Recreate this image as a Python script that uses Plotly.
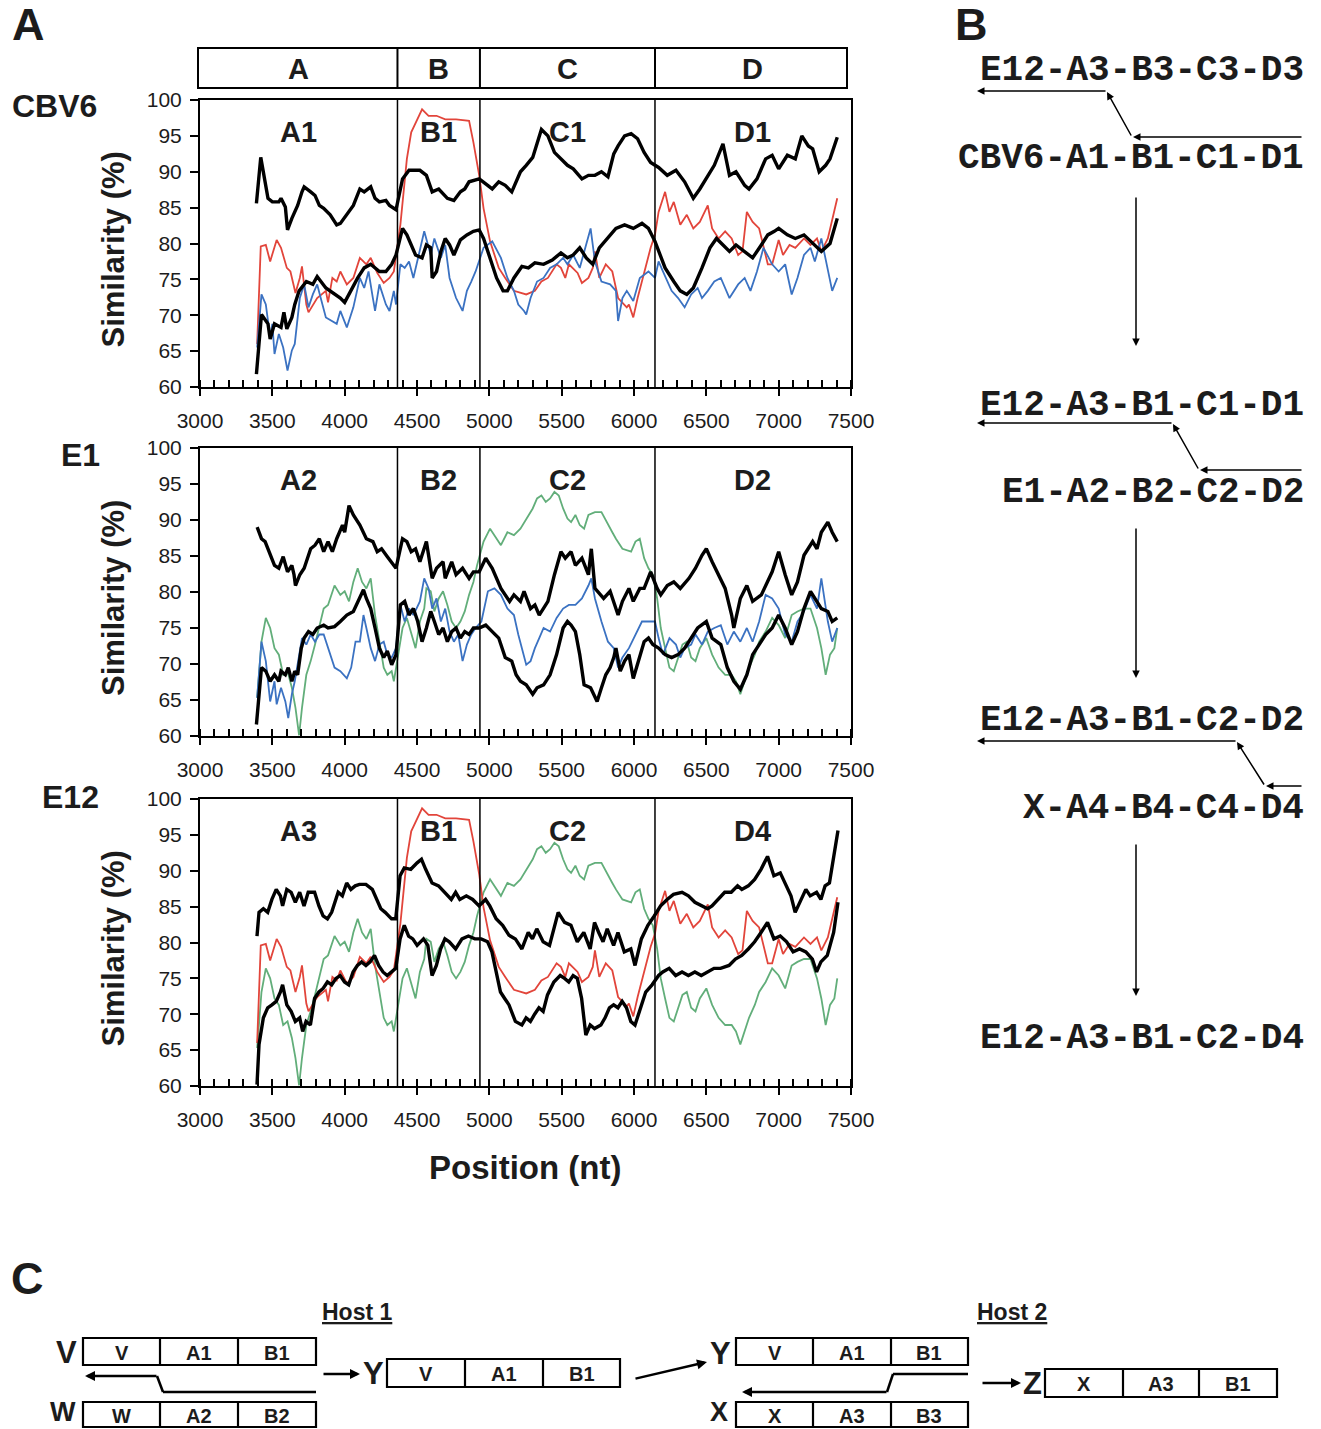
import plotly.graph_objects as go

# ---------------------------------------------------------------------------
# Similarity plots (sliding window, % identity vs genome position in nt)
# Each series: list of (position, similarity) pairs.
# ---------------------------------------------------------------------------

# CBV6 query
CBV6_UPPER = [(3390, 85.6), (3420, 92.0), (3470, 86.3), (3500, 85.8), (3545, 85.8), (3560, 86.3), (3590, 85.1),
              (3605, 81.9), (3635, 83.5), (3675, 85.3), (3705, 87.2), (3720, 87.9), (3765, 87.2), (3795, 86.7),
              (3825, 85.3), (3855, 84.9), (3900, 84.0), (3945, 82.6), (3970, 82.8), (4015, 84.0), (4060, 85.3),
              (4105, 87.6), (4135, 87.2), (4180, 87.9), (4210, 86.3), (4240, 85.8), (4285, 86.0), (4310, 85.3),
              (4355, 84.7), (4400, 89.0), (4445, 90.2), (4520, 90.2), (4565, 89.5), (4605, 87.2), (4650, 87.6),
              (4710, 86.3), (4755, 86.0), (4800, 87.2), (4830, 87.6), (4860, 88.6), (4930, 89.0), (4975, 88.3),
              (5020, 87.6), (5065, 88.6), (5110, 88.1), (5155, 87.2), (5215, 90.0), (5255, 90.9), (5300, 92.0),
              (5360, 95.9), (5405, 95.0), (5450, 92.7), (5495, 91.8), (5540, 90.9), (5580, 90.4), (5640, 89.0),
              (5685, 89.5), (5730, 89.5), (5775, 90.0), (5820, 89.3), (5860, 92.5), (5890, 93.6), (5935, 95.0),
              (5980, 95.3), (6025, 94.6), (6070, 92.7), (6115, 91.3), (6170, 90.6), (6230, 89.5), (6290, 90.2),
              (6350, 88.6), (6410, 86.3), (6455, 87.6), (6500, 89.0), (6555, 90.9), (6615, 93.9), (6660, 89.5),
              (6705, 90.0), (6765, 88.1), (6795, 87.6), (6850, 89.0), (6910, 91.8), (6955, 92.3), (7000, 90.4),
              (7060, 92.3), (7115, 91.8), (7160, 95.0), (7205, 93.6), (7235, 93.2), (7280, 90.0), (7325, 90.9),
              (7355, 91.8), (7405, 94.8)]

CBV6_LOWER = [(3390, 61.8), (3425, 70.1), (3470, 68.8), (3485, 66.7), (3515, 68.8), (3560, 68.3), (3580, 70.4),
              (3600, 68.1), (3635, 69.7), (3655, 71.5), (3685, 73.4), (3735, 74.7), (3780, 74.3), (3810, 75.4),
              (3870, 73.8), (3970, 72.4), (4000, 71.8), (4030, 72.9), (4045, 73.4), (4090, 75.2), (4135, 76.6),
              (4180, 77.1), (4240, 76.1), (4285, 76.1), (4325, 77.1), (4355, 78.4), (4400, 82.1), (4430, 81.2),
              (4490, 78.4), (4535, 78.0), (4565, 79.8), (4595, 79.4), (4605, 75.2), (4635, 76.1), (4665, 78.9),
              (4695, 80.7), (4725, 79.8), (4755, 78.4), (4800, 80.5), (4845, 81.2), (4890, 81.7), (4930, 81.9),
              (4960, 80.7), (5005, 78.0), (5050, 75.2), (5095, 73.4), (5125, 73.4), (5170, 75.2), (5225, 76.8),
              (5270, 76.6), (5315, 77.3), (5375, 77.1), (5435, 77.7), (5495, 78.7), (5540, 78.0), (5580, 78.4),
              (5625, 79.4), (5670, 78.0), (5715, 77.1), (5760, 79.4), (5835, 81.2), (5875, 82.1), (5935, 82.6),
              (5995, 82.1), (6055, 82.8), (6100, 82.1), (6145, 80.3), (6215, 76.6), (6275, 74.7), (6320, 73.4),
              (6365, 72.9), (6410, 73.8), (6470, 76.6), (6525, 79.4), (6570, 80.7), (6615, 79.8), (6660, 78.9),
              (6705, 79.8), (6765, 78.9), (6820, 78.0), (6880, 79.8), (6925, 81.2), (6970, 81.7), (7000, 82.1),
              (7060, 81.2), (7115, 80.7), (7175, 81.2), (7235, 80.0), (7295, 78.9), (7355, 80.0), (7405, 83.5)]

CBV6_BLUE = [(3395, 65.5), (3425, 72.9), (3455, 71.5), (3485, 66.9), (3500, 68.8), (3515, 64.6), (3545, 67.4),
             (3575, 65.5), (3605, 62.3), (3635, 65.1), (3655, 66.0), (3690, 72.4), (3720, 74.3), (3750, 71.1),
             (3780, 72.9), (3810, 74.3), (3870, 69.7), (3945, 68.8), (3970, 70.6), (4015, 68.3), (4060, 71.1),
             (4105, 75.2), (4135, 73.8), (4165, 76.1), (4195, 72.4), (4210, 70.6), (4240, 74.3), (4285, 71.5),
             (4310, 70.6), (4340, 73.4), (4355, 71.5), (4385, 77.1), (4415, 76.6), (4445, 77.5), (4475, 75.2),
             (4550, 81.7), (4595, 78.4), (4620, 80.7), (4665, 78.0), (4695, 79.8), (4725, 75.2), (4770, 72.4),
             (4815, 70.6), (4845, 73.4), (4875, 74.7), (4905, 76.1), (4960, 79.4), (5020, 80.3), (5080, 78.0),
             (5125, 75.2), (5170, 73.4), (5200, 71.5), (5240, 70.6), (5255, 70.1), (5285, 72.4), (5330, 74.7),
             (5375, 75.2), (5420, 76.6), (5465, 77.1), (5510, 78.0), (5540, 77.1), (5580, 78.4), (5625, 76.6),
             (5700, 82.1), (5730, 77.5), (5775, 74.7), (5835, 74.3), (5875, 73.4), (5890, 69.2), (5920, 72.4),
             (5950, 73.4), (5995, 72.0), (6040, 75.2), (6100, 76.1), (6145, 75.2), (6170, 77.5), (6200, 76.1),
             (6260, 73.4), (6305, 72.4), (6350, 71.1), (6395, 72.9), (6440, 73.8), (6470, 72.4), (6510, 73.4),
             (6555, 74.7), (6600, 75.2), (6660, 72.4), (6720, 74.3), (6765, 75.2), (6805, 73.4), (6850, 76.1),
             (6895, 79.4), (6955, 77.1), (7000, 76.1), (7045, 77.1), (7090, 72.9), (7130, 75.2), (7175, 78.4),
             (7220, 79.4), (7250, 77.5), (7295, 80.7), (7340, 76.1), (7370, 73.4), (7405, 75.2)]

# CBV6 vs E12 (drawn in the CBV6 and E12 panels)
CBV6_E12_RED = [(3395, 66.0), (3420, 79.6), (3455, 79.8), (3485, 77.5), (3530, 80.5), (3560, 79.4), (3600, 76.6),
                (3625, 76.1), (3660, 73.1), (3690, 75.2), (3705, 76.8), (3735, 71.5), (3750, 70.4), (3810, 72.4),
                (3870, 73.4), (3885, 71.8), (3915, 75.2), (3945, 74.7), (3970, 76.1), (4015, 74.3), (4060, 75.2),
                (4105, 78.0), (4150, 77.1), (4180, 78.0), (4225, 75.9), (4270, 74.5), (4310, 75.2), (4340, 76.1),
                (4385, 82.6), (4415, 88.6), (4430, 91.8), (4460, 95.5), (4535, 98.7), (4580, 97.8), (4635, 97.8),
                (4695, 97.3), (4770, 97.3), (4860, 97.1), (4890, 94.1), (4930, 89.5), (4960, 84.9), (5005, 80.3),
                (5065, 76.6), (5110, 75.2), (5170, 73.4), (5255, 72.9), (5315, 73.4), (5360, 74.7), (5405, 75.2),
                (5465, 77.1), (5495, 76.6), (5525, 75.2), (5550, 77.1), (5610, 75.9), (5640, 74.5), (5685, 75.2),
                (5715, 76.6), (5730, 78.9), (5760, 75.2), (5805, 77.1), (5850, 76.1), (5890, 72.4), (5950, 71.1),
                (5965, 71.5), (5995, 69.7), (6025, 72.4), (6070, 76.1), (6115, 79.4), (6145, 81.2), (6170, 84.4),
                (6215, 87.2), (6245, 84.4), (6275, 85.8), (6320, 82.6), (6365, 84.0), (6410, 82.1), (6455, 83.0),
                (6510, 85.3), (6540, 82.1), (6585, 80.7), (6630, 81.7), (6675, 80.7), (6720, 78.4), (6750, 78.9),
                (6780, 84.4), (6820, 83.0), (6865, 82.1), (6895, 79.4), (6925, 77.1), (6955, 77.1), (7000, 80.5),
                (7030, 78.4), (7075, 79.8), (7115, 79.4), (7175, 80.7), (7220, 79.8), (7265, 80.7), (7295, 78.9),
                (7340, 80.7), (7405, 86.3)]

# E1 query
E1_UPPER = [(3395, 89.0), (3425, 87.4), (3450, 87.0), (3485, 85.1), (3515, 83.7), (3545, 83.3), (3575, 84.9),
            (3605, 82.8), (3635, 83.7), (3650, 82.4), (3660, 80.9), (3690, 82.4), (3720, 83.3), (3765, 86.0),
            (3795, 86.5), (3825, 87.4), (3855, 85.6), (3885, 87.0), (3915, 85.6), (3945, 87.4), (3985, 89.3),
            (4000, 88.3), (4030, 92.0), (4060, 90.7), (4105, 89.3), (4150, 87.4), (4195, 87.0), (4225, 85.6),
            (4255, 86.0), (4295, 84.9), (4340, 83.7), (4355, 83.3), (4400, 87.4), (4430, 87.0), (4460, 85.6),
            (4490, 86.0), (4520, 84.2), (4565, 87.0), (4605, 81.9), (4635, 83.3), (4680, 84.2), (4695, 81.9),
            (4740, 84.2), (4770, 82.4), (4815, 83.3), (4860, 81.9), (4890, 82.8), (4930, 82.8), (4975, 84.7),
            (5020, 83.3), (5080, 80.5), (5140, 78.7), (5170, 79.6), (5215, 78.7), (5240, 80.1), (5285, 77.7),
            (5315, 78.2), (5345, 76.8), (5405, 78.7), (5450, 82.4), (5495, 85.6), (5525, 84.7), (5565, 85.6),
            (5595, 83.7), (5640, 84.7), (5685, 82.4), (5705, 86.0), (5730, 80.5), (5790, 79.1), (5835, 80.1),
            (5890, 76.8), (5920, 78.7), (5965, 80.5), (5995, 78.7), (6040, 80.5), (6070, 80.5), (6115, 82.8),
            (6160, 80.5), (6185, 79.6), (6230, 80.9), (6275, 81.4), (6320, 80.5), (6380, 81.9), (6425, 83.3),
            (6470, 85.1), (6500, 86.0), (6540, 84.2), (6585, 82.4), (6630, 80.5), (6675, 76.8), (6690, 75.0),
            (6735, 79.1), (6780, 80.9), (6820, 78.7), (6880, 79.6), (6955, 82.8), (7000, 85.6), (7045, 82.4),
            (7090, 79.6), (7130, 81.4), (7175, 85.1), (7235, 87.0), (7265, 86.0), (7295, 88.3), (7340, 89.7),
            (7370, 88.3), (7405, 87.0)]

E1_LOWER = [(3390, 61.6), (3425, 69.5), (3455, 69.0), (3485, 67.6), (3515, 68.5), (3545, 67.6), (3560, 69.0),
            (3590, 68.5), (3610, 69.5), (3635, 67.6), (3655, 69.0), (3675, 68.5), (3700, 72.2), (3720, 73.6),
            (3750, 74.5), (3780, 74.1), (3810, 75.0), (3855, 75.4), (3885, 75.0), (3930, 75.2), (3970, 75.9),
            (4015, 76.8), (4060, 77.3), (4105, 79.1), (4130, 80.3), (4150, 79.1), (4180, 77.7), (4210, 75.0),
            (4240, 72.2), (4270, 70.9), (4295, 71.8), (4325, 69.9), (4355, 71.3), (4385, 78.2), (4415, 78.7),
            (4445, 76.8), (4475, 77.7), (4505, 75.9), (4535, 73.1), (4565, 75.0), (4595, 77.3), (4620, 75.9),
            (4650, 74.1), (4680, 75.0), (4710, 73.1), (4740, 74.5), (4770, 75.0), (4800, 73.6), (4830, 74.5),
            (4860, 74.1), (4890, 75.0), (4930, 75.0), (4975, 75.4), (5020, 74.5), (5065, 73.6), (5110, 70.9),
            (5155, 70.4), (5185, 68.5), (5215, 67.6), (5255, 67.1), (5300, 65.8), (5330, 66.7), (5375, 67.1),
            (5420, 68.5), (5465, 71.3), (5510, 75.0), (5540, 75.9), (5565, 75.4), (5595, 74.5), (5625, 71.3),
            (5655, 67.1), (5700, 66.7), (5745, 64.8), (5775, 66.7), (5805, 68.5), (5835, 69.5), (5860, 70.9),
            (5875, 72.2), (5905, 69.0), (5935, 70.4), (5965, 71.3), (5995, 68.0), (6040, 71.3), (6070, 73.1),
            (6100, 73.6), (6130, 72.7), (6170, 72.2), (6215, 71.3), (6260, 70.9), (6305, 71.3), (6350, 72.2),
            (6395, 73.6), (6440, 75.0), (6500, 75.9), (6540, 73.6), (6600, 72.7), (6645, 69.5), (6690, 67.6),
            (6735, 66.5), (6780, 68.5), (6820, 71.3), (6865, 72.7), (6910, 74.1), (6955, 75.0), (7000, 76.8),
            (7045, 75.0), (7090, 72.7), (7130, 74.5), (7175, 77.7), (7220, 80.1), (7265, 78.7), (7295, 77.7),
            (7340, 77.3), (7370, 75.9), (7405, 76.4)]

E1_BLUE = [(3395, 65.3), (3425, 73.1), (3455, 70.4), (3485, 64.8), (3515, 67.6), (3530, 64.4), (3560, 66.7),
           (3590, 64.8), (3610, 62.5), (3635, 65.8), (3655, 67.6), (3685, 70.9), (3705, 73.6), (3735, 72.7),
           (3765, 74.1), (3795, 73.1), (3825, 74.1), (3855, 74.1), (3885, 72.2), (3930, 69.5), (3970, 69.0),
           (4015, 68.0), (4045, 69.5), (4075, 73.1), (4105, 73.1), (4130, 76.8), (4150, 75.0), (4180, 72.2),
           (4210, 70.4), (4240, 72.7), (4270, 73.1), (4295, 71.3), (4325, 70.9), (4355, 72.2), (4385, 78.2),
           (4415, 75.9), (4445, 77.7), (4475, 76.8), (4520, 78.7), (4550, 81.9), (4580, 80.5), (4605, 77.7),
           (4635, 79.1), (4665, 75.9), (4695, 77.7), (4725, 74.5), (4755, 73.1), (4785, 74.1), (4815, 70.4),
           (4845, 72.7), (4875, 74.1), (4905, 75.0), (4945, 75.9), (4990, 80.1), (5035, 80.5), (5080, 79.6),
           (5125, 77.7), (5170, 76.8), (5200, 74.1), (5230, 71.8), (5255, 69.9), (5285, 70.4), (5315, 72.2),
           (5345, 73.6), (5375, 75.0), (5420, 74.5), (5465, 76.4), (5510, 77.7), (5550, 78.2), (5595, 78.2),
           (5640, 79.1), (5685, 80.9), (5705, 81.9), (5730, 79.1), (5775, 75.9), (5820, 73.1), (5860, 72.2),
           (5890, 69.5), (5920, 70.9), (5965, 72.2), (6010, 74.1), (6055, 75.9), (6100, 75.9), (6145, 75.9),
           (6170, 73.6), (6200, 71.3), (6245, 73.6), (6290, 72.7), (6320, 70.9), (6350, 72.2), (6395, 72.7),
           (6425, 74.1), (6470, 72.7), (6510, 74.5), (6555, 75.0), (6600, 75.4), (6645, 72.7), (6690, 74.5),
           (6735, 73.1), (6780, 75.0), (6820, 73.1), (6865, 75.9), (6910, 79.6), (6955, 79.1), (7000, 77.7),
           (7045, 74.1), (7090, 73.1), (7130, 75.9), (7175, 77.3), (7220, 79.6), (7265, 77.7), (7295, 81.9),
           (7340, 75.9), (7370, 73.1), (7405, 75.0)]

# E1 vs E12 (drawn in the E1 and E12 panels)
E1_E12_GREEN = [(3395, 65.3), (3425, 73.1), (3455, 76.4), (3485, 75.0), (3515, 72.2), (3545, 71.3), (3575, 68.5),
                (3605, 69.0), (3635, 66.7), (3660, 63.9), (3685, 60.1), (3705, 63.9), (3735, 68.5), (3765, 70.4),
                (3795, 72.7), (3825, 75.0), (3855, 77.7), (3885, 78.2), (3930, 80.9), (3970, 79.6), (4000, 80.1),
                (4030, 78.7), (4060, 81.4), (4090, 83.3), (4120, 81.4), (4150, 80.5), (4180, 81.9), (4210, 76.8),
                (4240, 73.1), (4270, 69.5), (4295, 68.5), (4325, 69.0), (4340, 67.6), (4370, 71.3), (4400, 75.0),
                (4430, 76.4), (4460, 74.1), (4490, 72.2), (4520, 75.9), (4550, 77.7), (4565, 80.5), (4595, 80.1),
                (4620, 77.3), (4650, 79.1), (4680, 80.1), (4710, 78.2), (4740, 75.9), (4770, 75.0), (4800, 75.9),
                (4830, 77.3), (4860, 79.6), (4890, 81.4), (4915, 83.7), (4960, 87.0), (5005, 88.8), (5050, 87.4),
                (5080, 86.5), (5125, 88.3), (5170, 87.9), (5215, 88.8), (5255, 90.2), (5300, 91.6), (5330, 93.0),
                (5360, 93.4), (5390, 92.5), (5420, 93.0), (5450, 93.9), (5480, 93.4), (5510, 91.6), (5540, 90.2),
                (5565, 89.7), (5595, 90.7), (5625, 89.3), (5655, 88.8), (5685, 90.7), (5730, 91.1), (5775, 91.1),
                (5820, 89.3), (5850, 88.3), (5875, 87.4), (5920, 86.0), (5980, 85.6), (6010, 87.0), (6040, 87.4),
                (6070, 84.7), (6100, 83.3), (6130, 82.4), (6160, 79.1), (6185, 75.0), (6215, 72.2), (6245, 69.5),
                (6275, 69.0), (6305, 70.9), (6335, 72.7), (6365, 73.1), (6395, 70.9), (6425, 70.4), (6455, 72.2),
                (6500, 73.6), (6540, 71.3), (6585, 69.5), (6630, 68.5), (6675, 68.5), (6705, 67.6), (6735, 65.8),
                (6765, 67.6), (6795, 69.5), (6835, 71.3), (6865, 73.1), (6910, 74.5), (6955, 76.4), (7000, 75.4),
                (7045, 73.6), (7090, 76.8), (7130, 77.3), (7175, 77.7), (7220, 77.7), (7265, 75.0), (7295, 72.2),
                (7325, 68.5), (7355, 71.3), (7385, 72.2), (7405, 75.0)]

# E12 query
E12_UPPER = [(3394, 80.9), (3408, 84.2), (3438, 84.7), (3468, 84.2), (3497, 86.0), (3527, 87.4), (3556, 86.5),
             (3571, 85.1), (3600, 87.4), (3630, 87.0), (3659, 85.6), (3689, 87.0), (3719, 85.1), (3748, 87.0),
             (3792, 87.0), (3822, 85.1), (3851, 83.7), (3881, 83.3), (3910, 84.2), (3955, 87.0), (3984, 86.5),
             (4014, 88.3), (4043, 87.4), (4073, 87.9), (4102, 88.1), (4147, 88.1), (4191, 87.4), (4221, 86.0),
             (4250, 84.7), (4280, 84.2), (4324, 83.3), (4353, 83.3), (4383, 89.3), (4412, 90.4), (4457, 90.2),
             (4501, 91.1), (4531, 91.6), (4560, 90.2), (4604, 88.3), (4649, 87.9), (4693, 87.0), (4737, 86.0),
             (4767, 87.0), (4796, 86.0), (4841, 86.5), (4885, 86.0), (4929, 85.1), (4974, 86.0), (5003, 85.1),
             (5047, 83.3), (5092, 82.4), (5136, 81.0), (5180, 80.5), (5225, 79.1), (5269, 81.4), (5298, 80.5),
             (5328, 81.9), (5372, 80.1), (5416, 79.6), (5476, 84.2), (5520, 82.8), (5564, 82.4), (5608, 80.1),
             (5653, 81.4), (5697, 79.1), (5727, 82.8), (5756, 81.4), (5786, 80.1), (5815, 81.9), (5859, 79.6),
             (5889, 81.4), (5933, 78.7), (5978, 79.1), (6007, 76.8), (6051, 80.5), (6096, 82.4), (6140, 83.7),
             (6184, 85.1), (6229, 86.0), (6273, 86.7), (6332, 87.0), (6376, 86.5), (6421, 85.6), (6465, 85.1),
             (6509, 84.7), (6539, 85.1), (6583, 86.0), (6627, 87.0), (6672, 87.0), (6716, 87.9), (6745, 87.4),
             (6790, 87.9), (6834, 88.8), (6878, 90.2), (6923, 92.0), (6967, 89.3), (7011, 89.7), (7055, 87.9),
             (7085, 86.5), (7114, 84.2), (7144, 85.6), (7188, 87.4), (7218, 86.5), (7262, 87.0), (7292, 86.0),
             (7321, 87.9), (7351, 88.3), (7380, 91.6), (7410, 95.6)]

E12_LOWER = [(3394, 60.2), (3408, 65.8), (3438, 69.5), (3468, 70.9), (3497, 71.3), (3527, 71.8), (3556, 73.1),
             (3571, 74.1), (3600, 71.3), (3630, 70.4), (3659, 69.0), (3689, 69.5), (3710, 67.6), (3733, 69.0),
             (3763, 68.5), (3792, 72.2), (3822, 73.1), (3851, 73.6), (3881, 74.5), (3910, 74.1), (3940, 75.0),
             (3969, 75.4), (3999, 74.5), (4028, 74.1), (4058, 75.9), (4088, 76.8), (4117, 77.3), (4147, 76.8),
             (4176, 77.3), (4206, 78.2), (4235, 76.8), (4265, 75.9), (4294, 75.4), (4324, 75.9), (4353, 76.4),
             (4383, 80.5), (4412, 82.4), (4442, 80.9), (4471, 80.5), (4501, 79.6), (4545, 80.5), (4575, 79.6),
             (4604, 75.4), (4634, 76.8), (4663, 79.1), (4693, 80.5), (4723, 80.1), (4767, 79.1), (4811, 80.5),
             (4855, 80.9), (4900, 80.5), (4944, 80.5), (4988, 80.1), (5018, 78.7), (5047, 75.9), (5077, 73.1),
             (5106, 72.2), (5136, 71.3), (5180, 69.0), (5225, 68.5), (5254, 69.5), (5284, 69.0), (5313, 70.0),
             (5343, 70.9), (5372, 70.4), (5402, 72.7), (5446, 74.5), (5490, 75.4), (5520, 75.0), (5549, 74.5),
             (5579, 75.4), (5608, 75.0), (5638, 72.2), (5667, 67.1), (5697, 68.5), (5727, 68.0), (5771, 68.5),
             (5800, 69.5), (5830, 70.9), (5859, 71.3), (5889, 70.9), (5918, 71.8), (5948, 70.9), (5978, 69.0),
             (6007, 68.5), (6051, 71.3), (6081, 73.1), (6125, 74.1), (6170, 75.4), (6199, 75.9), (6243, 76.4),
             (6288, 75.4), (6332, 75.9), (6376, 75.4), (6421, 75.9), (6465, 75.4), (6509, 75.9), (6553, 76.4),
             (6598, 76.4), (6657, 76.8), (6701, 77.7), (6745, 78.2), (6790, 79.1), (6834, 80.1), (6878, 81.4),
             (6923, 82.8), (6967, 80.5), (7011, 80.9), (7055, 80.1), (7100, 78.7), (7144, 79.1), (7188, 78.7),
             (7233, 77.7), (7262, 75.9), (7292, 77.3), (7336, 78.2), (7380, 81.4), (7410, 85.6)]

# Genome regions (nt) and their labels
REGION_EDGES = [3000, 4365, 4935, 6145, 7500]
REGION_NAMES = ["A", "B", "C", "D"]
PANEL_NAMES = ["CBV6", "E1", "E12"]
PANEL_REGION_LABELS = [["A1", "B1", "C1", "D1"],
                       ["A2", "B2", "C2", "D2"],
                       ["A3", "B1", "C2", "D4"]]

X_TICKS = [3000, 3500, 4000, 4500, 5000, 5500, 6000, 6500, 7000, 7500]
Y_TICKS = [60, 65, 70, 75, 80, 85, 90, 95, 100]

# Recombination schemes (panel B) and the host diagram (panel C)
SCHEME_LINES = ["E12-A3-B3-C3-D3", "CBV6-A1-B1-C1-D1", "E12-A3-B1-C1-D1", "E1-A2-B2-C2-D2",
                "E12-A3-B1-C2-D2", "X-A4-B4-C4-D4", "E12-A3-B1-C2-D4"]
GENOMES = {
    "h1_V": ("V", ["V", "A1", "B1"]),
    "h1_W": ("W", ["W", "A2", "B2"]),
    "h1_Y": ("Y", ["V", "A1", "B1"]),
    "h2_Y": ("Y", ["V", "A1", "B1"]),
    "h2_X": ("X", ["X", "A3", "B3"]),
    "h2_Z": ("Z", ["X", "A3", "B1"]),
}

# ---------------------------------------------------------------------------
W, H = 1321, 1429
FONT = "Arial, Liberation Sans, Helvetica, sans-serif"
MONO = "Courier New, Liberation Mono, monospace"
INK = "#1c1c1c"
RED = "#e2453b"
BLUE = "#3b72c2"
GREEN = "#62ae7a"


def fx(px):
    return px / W


def fy(py):
    return 1 - py / H


def label(x, y, text, size, xref="paper", yref="paper", **kw):
    d = dict(xref=xref, yref=yref, x=x, y=y, text=text, showarrow=False,
             xanchor="center", yanchor="middle", font=dict(family=FONT, size=size, color=INK))
    d.update(kw)
    return d


PLOT_LEFT, PLOT_RIGHT = 200, 851
PLOT_TOPS = [100, 448, 799]
PLOT_BOTTOMS = [387, 736, 1086]

panel_series = [
    [(CBV6_E12_RED, RED), (CBV6_BLUE, BLUE), (CBV6_UPPER, "black"), (CBV6_LOWER, "black")],
    [(E1_E12_GREEN, GREEN), (E1_BLUE, BLUE), (E1_UPPER, "black"), (E1_LOWER, "black")],
    [(E1_E12_GREEN, GREEN), (CBV6_E12_RED, RED), (E12_UPPER, "black"), (E12_LOWER, "black")],
]

fig = go.Figure()
shapes = []
annotations = []

for i, series in enumerate(panel_series):
    sfx = "" if i == 0 else str(i + 1)
    xa, ya = "x" + sfx, "y" + sfx
    for data, color in series:
        fig.add_trace(go.Scatter(
            x=[p for p, _ in data], y=[v for _, v in data],
            mode="lines", xaxis=xa, yaxis=ya, showlegend=False, hoverinfo="skip",
            line=dict(color=color, width=3.4 if color == "black" else 1.8)))

    axis_common = dict(showline=True, linecolor="black", linewidth=2, mirror=True,
                       showgrid=False, zeroline=False,
                       tickfont=dict(family=FONT, size=21, color=INK),
                       ticks="outside", tickcolor="black", tickwidth=1.5)
    layout_x = dict(domain=[fx(PLOT_LEFT), fx(PLOT_RIGHT)], range=[3000, 7500],
                    tickvals=X_TICKS, ticklen=7, ticklabelstandoff=7,
                    minor=dict(ticks="inside", dtick=100, ticklen=7, tickwidth=1.5, tickcolor="black"),
                    anchor=ya, **axis_common)
    layout_y = dict(domain=[fy(PLOT_BOTTOMS[i]), fy(PLOT_TOPS[i])], range=[60, 100],
                    tickvals=Y_TICKS, ticklen=8, ticklabelstandoff=4, anchor=xa, **axis_common)
    fig.update_layout(**{"xaxis" + sfx: layout_x, "yaxis" + sfx: layout_y})

    # region boundaries
    for b in REGION_EDGES[1:-1]:
        shapes.append(dict(type="line", xref=xa, yref=ya, x0=b, x1=b, y0=60, y1=100,
                           line=dict(color="black", width=1.5)))
    # region labels inside the plot
    for k, lab in enumerate(PANEL_REGION_LABELS[i]):
        annotations.append(label((REGION_EDGES[k] + REGION_EDGES[k + 1]) / 2, 95.6, "<b>%s</b>" % lab, 29,
                                 xref=xa, yref=ya))
    # y-axis title
    mid = (PLOT_TOPS[i] + PLOT_BOTTOMS[i]) / 2 + 6
    annotations.append(label(fx(113), fy(mid), "<b>Similarity (%)</b>", 31, textangle=-90))

# virus names beside each plot
for name, (cx, cy) in zip(PANEL_NAMES, [(54, 106), (80, 455), (70, 797)]):
    annotations.append(label(fx(cx), fy(cy), "<b>%s</b>" % name, 32))

# region header box above the first plot
shapes.append(dict(type="rect", xref="paper", yref="paper", x0=fx(198), x1=fx(847), y0=fy(88), y1=fy(48),
                   line=dict(color="black", width=2)))
for b in REGION_EDGES[1:-1]:
    shapes.append(dict(type="line", xref="x", yref="paper", x0=b, x1=b, y0=fy(88), y1=fy(48),
                       line=dict(color="black", width=2)))
for k, lab in enumerate(REGION_NAMES):
    annotations.append(label((REGION_EDGES[k] + REGION_EDGES[k + 1]) / 2, fy(69), "<b>%s</b>" % lab, 29,
                             xref="x"))

annotations.append(label(fx(525), fy(1167), "<b>Position (nt)</b>", 33))

# panel letters
for letter, (cx, cy) in zip(["A", "B", "C"], [(28, 25), (971, 25), (27, 1278)]):
    annotations.append(label(fx(cx), fy(cy), "<b>%s</b>" % letter, 45))


def arrow(head, tail, width=1.5, size=1.0):
    annotations.append(dict(xref="paper", yref="paper", x=fx(head[0]), y=fy(head[1]),
                            ax=tail[0] - head[0], ay=tail[1] - head[1], axref="pixel", ayref="pixel",
                            xanchor="center", yanchor="middle",
                            text="", showarrow=True, arrowhead=2, arrowsize=size, arrowwidth=width,
                            arrowcolor="black", standoff=0, startstandoff=0))


def seg(p0, p1, width=1.5):
    shapes.append(dict(type="line", xref="paper", yref="paper", x0=fx(p0[0]), y0=fy(p0[1]),
                       x1=fx(p1[0]), y1=fy(p1[1]), line=dict(color="black", width=width)))


# ---- panel B: recombination scheme ----
for text, cy in zip(SCHEME_LINES, [70, 158, 405, 492, 720, 808, 1038]):
    annotations.append(dict(xref="paper", yref="paper", x=fx(1306), y=fy(cy), xanchor="right", yanchor="middle",
                            text="<b>%s</b>" % text, showarrow=False,
                            font=dict(family=MONO, size=36, color=INK)))

for top_y, turn_top, turn_bot, bot_y in [(91, 1107, 1132, 137), (423, 1173, 1199, 470), (741, 1237, 1265, 786)]:
    arrow((977, top_y), (turn_top, top_y))
    arrow((turn_top, top_y + 1), (turn_bot, bot_y))
    arrow((turn_bot + 1, bot_y), (1303, bot_y))

for y0, y1 in [(196, 346), (527, 678), (843, 996)]:
    arrow((1136, y1), (1136, y0))

# ---- panel C: recombination between genomes in two hosts ----
for host, cx in [("Host 1", 357), ("Host 2", 1012)]:
    annotations.append(label(fx(cx), fy(1312), "<b><u>%s</u></b>" % host, 23))


def genome_box(key, x0, y0, x1, y1, cells, label_at, tag_size=31):
    tag, parts = GENOMES[key]
    shapes.append(dict(type="rect", xref="paper", yref="paper", x0=fx(x0), x1=fx(x1), y0=fy(y1), y1=fy(y0),
                       line=dict(color="black", width=2.2)))
    edges = [x0] + cells + [x1]
    for c in cells:
        seg((c, y0), (c, y1), width=2.2)
    for k, part in enumerate(parts):
        annotations.append(label(fx((edges[k] + edges[k + 1]) / 2), fy((y0 + y1) / 2 + 1),
                                 "<b>%s</b>" % part, 20))
    annotations.append(label(fx(label_at[0]), fy(label_at[1]), "<b>%s</b>" % tag, tag_size))


genome_box("h1_V", 83, 1338, 316, 1365, [160, 238], (66, 1352))
genome_box("h1_W", 83, 1402, 316, 1427, [160, 238], (63, 1412), tag_size=27)
genome_box("h1_Y", 387, 1359, 620, 1387, [465, 543], (373, 1373))
genome_box("h2_Y", 736, 1338, 968, 1365, [813, 891], (720, 1353))
genome_box("h2_X", 736, 1402, 968, 1427, [813, 891], (719, 1412), tag_size=27)
genome_box("h2_Z", 1045, 1369, 1277, 1397, [1123, 1199], (1032, 1383))

# template switch in host 1: copying W, then V
seg((316, 1392), (163, 1392), width=2.5)
seg((163, 1392), (157, 1376), width=2.5)
arrow((85, 1376), (158, 1376), width=2.5, size=0.8)
arrow((360, 1374), (322, 1374), width=2.5, size=0.8)
arrow((707, 1362), (634, 1379), width=2.5, size=0.8)
# template switch in host 2: copying Y, then X
seg((968, 1374), (893, 1374), width=2.5)
seg((893, 1374), (887, 1392), width=2.5)
arrow((742, 1392), (888, 1392), width=2.5, size=0.8)
arrow((1021, 1383), (981, 1383), width=2.5, size=0.8)

fig.update_layout(width=W, height=H, margin=dict(l=0, r=0, t=0, b=0, autoexpand=False),
                  paper_bgcolor="white", plot_bgcolor="white",
                  shapes=shapes, annotations=annotations, showlegend=False,
                  font=dict(family=FONT, color=INK))

fig.write_html("out.html")
